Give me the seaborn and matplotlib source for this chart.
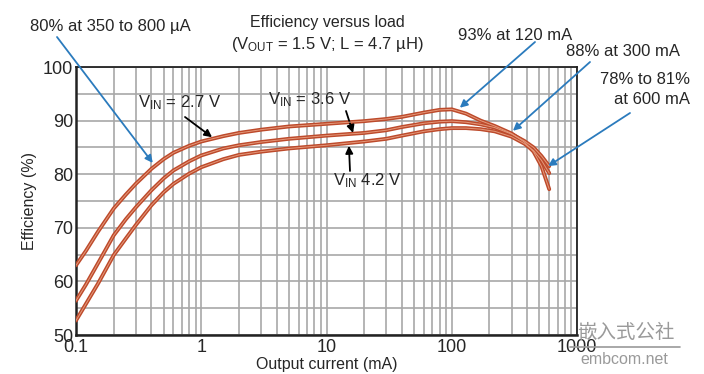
import numpy as np
import pandas as pd
import matplotlib
matplotlib.use('agg')
import matplotlib.pyplot as plt
from matplotlib.ticker import FixedLocator, LogLocator, NullFormatter, FixedFormatter
import seaborn as sns

# Load current (mA) at which curves were read
current_ma = [0.1, 0.12, 0.15, 0.2, 0.25, 0.3, 0.4, 0.5, 0.6, 0.8, 1, 1.5, 2, 3, 5,
              10, 20, 30, 40, 60, 80, 100, 130, 170, 220, 300, 380, 450, 520, 600]

eff_27 = [63.0, 65.7, 69.3, 73.6, 76.2, 78.2, 81.0, 82.8, 84.0, 85.3, 86.1, 87.1, 87.7, 88.3, 88.9,
          89.4, 89.9, 90.3, 90.7, 91.5, 92.0, 92.1, 91.3, 90.0, 89.0, 87.6, 86.0, 84.2, 81.5, 77.2]
eff_36 = [56.4, 59.4, 63.4, 68.6, 71.6, 73.8, 77.0, 79.2, 80.7, 82.4, 83.5, 84.8, 85.4, 86.0, 86.6,
          87.2, 87.7, 88.2, 88.8, 89.5, 89.8, 89.9, 89.7, 89.3, 88.7, 87.5, 86.2, 85.0, 83.4, 81.5]
eff_42 = [52.7, 55.8, 59.6, 64.9, 68.0, 70.5, 74.2, 76.6, 78.2, 80.1, 81.3, 82.8, 83.6, 84.2, 84.8,
          85.4, 86.1, 86.6, 87.2, 88.0, 88.4, 88.6, 88.6, 88.4, 88.0, 87.0, 85.7, 84.4, 82.6, 80.2]

series_names = ['2.7 V', '3.6 V', '4.2 V']
y_ticks = [50, 60, 70, 80, 90, 100]
x_ticks = [0.1, 1, 10, 100, 1000]
x_tick_labels = ['0.1', '1', '10', '100', '1000']

df = pd.DataFrame({
    'current': current_ma * 3,
    'eff': eff_27 + eff_36 + eff_42,
    'vin': [n for n in series_names for _ in current_ma],
})

sns.set_style('white')
plt.rcParams['font.family'] = ['Liberation Sans', 'Noto Sans CJK SC', 'DejaVu Sans']
plt.rcParams['mathtext.default'] = 'regular'

fig = plt.figure(figsize=(7.04, 3.74), dpi=100)
ax = fig.add_axes([76 / 704, 1 - 335 / 374, 501 / 704, 268 / 374])

line_col = '#bd4a2b'
sns.lineplot(data=df, x='current', y='eff', hue='vin', palette=[line_col] * 3,
             lw=2.8, legend=False, ax=ax, zorder=3, sort=False)
sns.lineplot(data=df, x='current', y='eff', hue='vin', palette=['#e59a7c'] * 3,
             lw=0.7, legend=False, ax=ax, zorder=4, sort=False)

ax.set_xscale('log')
ax.set_xlim(0.1, 1000)
ax.set_ylim(50, 100)
ax.xaxis.set_major_locator(FixedLocator(x_ticks))
ax.xaxis.set_major_formatter(FixedFormatter(x_tick_labels))
ax.xaxis.set_minor_locator(LogLocator(base=10, subs=np.arange(2, 10)))
ax.xaxis.set_minor_formatter(NullFormatter())
ax.yaxis.set_major_locator(FixedLocator(y_ticks))
ax.yaxis.set_minor_locator(FixedLocator(np.arange(55, 100, 10)))
ax.grid(which='both', color='#a8a8a8', lw=1.2)
ax.set_axisbelow(True)
ax.tick_params(which='both', length=0, labelsize=13)
ax.tick_params(axis='x', pad=3)
ax.tick_params(axis='y', pad=2)
for s in ax.spines.values():
    s.set_color('#222222')
    s.set_linewidth(1.3)
ax.spines['left'].set_linewidth(1.8)
ax.spines['bottom'].set_linewidth(1.8)

ax.set_xlabel('Output current (mA)', fontsize=11.5, va='center')
ax.xaxis.set_label_coords(0.5, -(365 - 335) / 268)
ax.set_ylabel('Efficiency (%)', fontsize=11.5, labelpad=4)

# title
fig.text(327 / 704, 1 - 22 / 374, 'Efficiency versus load', ha='center', va='center', fontsize=11.5)
fig.text(327 / 704, 1 - 45 / 374, r'(V$_{OUT}$ = 1.5 V; L = 4.7 µH)', ha='center', va='center', fontsize=12)

blue = '#2b7bbd'
def callout(text, tip, start, tx, ty, ha='left', color=blue):
    ax.annotate('', xy=tip, xycoords='data', xytext=(start[0] / 704, 1 - start[1] / 374),
                textcoords='figure fraction', annotation_clip=False,
                arrowprops=dict(arrowstyle='-|>', color=color, lw=1.3, mutation_scale=11,
                                shrinkA=0, shrinkB=0))
    if text:
        fig.text(tx / 704, 1 - ty / 374, text, ha=ha, va='center', fontsize=12)

callout('80% at 350 to 800 µA', (0.41, 82.1), (57, 37), 30, 27)
callout('93% at 120 mA', (116, 92.4), (535, 42), 458, 35)
callout('88% at 300 mA', (308, 88.1), (590, 62), 566, 52)
callout('78% to 81%', (587, 81.5), (630, 113), 690, 80, ha='right')
fig.text(690 / 704, 1 - 100 / 374, 'at 600 mA', ha='right', va='center', fontsize=12)

callout(r'V$_{IN}$ = 2.7 V', (1.22, 86.9), (185, 117), 138, 103, color='black')
callout(r'V$_{IN}$ = 3.6 V', (16.3, 87.7), (346, 111), 268, 100, color='black')
callout(r'V$_{IN}$ 4.2 V', (15.1, 85.3), (350, 171), 333, 181, color='black')

# watermark
fig.text(626 / 704, 1 - 332 / 374, '嵌入式公社', ha='center', va='center', fontsize=14,
         color='#9a9a9a', family=['Noto Sans CJK SC', 'DejaVu Sans'])
fig.add_artist(plt.Line2D([570 / 704, 680 / 704], [1 - 347 / 374] * 2, color='#9a9a9a', lw=1.2))
fig.text(624 / 704, 1 - 359 / 374, 'embcom.net', ha='center', va='center', fontsize=11.5, color='#9a9a9a')

fig.savefig('out.png', dpi=100)
